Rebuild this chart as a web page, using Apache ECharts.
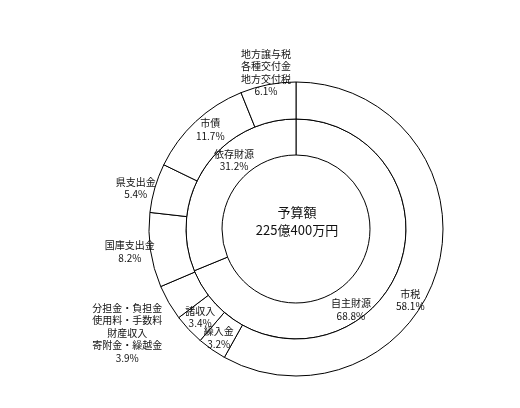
<!DOCTYPE html>
<html><head><meta charset="utf-8">
<script src="https://cdn.jsdelivr.net/npm/echarts@6/dist/echarts.min.js"></script>
<style>html,body{margin:0;padding:0;background:#fff}#c{width:520px;height:408px}</style>
</head><body><div id="c"></div>
<script>
const innerNames = ['自主財源', '依存財源'];
const innerValues = [68.8, 31.2];
const innerLabels = ['68.8%', '31.2%'];
const outerNames = ['市税', '繰入金', '諸収入', '分担金・負担金\n使用料・手数料\n財産収入\n寄附金・繰越金', '国庫支出金', '県支出金', '市債', '地方譲与税\n各種交付金\n地方交付税'];
const outerValues = [58.1, 3.2, 3.4, 3.9, 8.2, 5.4, 11.7, 6.1];
const outerLabels = ['58.1%', '3.2%', '3.4%', '3.9%', '8.2%', '5.4%', '11.7%', '6.1%'];
const centerTitle = '予算額';
const centerTotal = '225億400万円';

const innerOffsets = [[-24, 28], [17, -16]];
const outerOffsets = [[-13, 38], [-2, 1], [0, -2], [-55, 38], [-36, 4], [-34, -4], [4, -3], [-5, -27]];

const font = '"Noto Sans CJK JP", sans-serif';
const baseLabel = {
  show: true, position: 'inside', color: '#111', fontSize: 10, lineHeight: 12.5,
  fontFamily: font, align: 'center', formatter: p => p.data.text
};
const itemStyle = { color: '#fff', borderColor: '#000', borderWidth: 1 };

const chart = echarts.init(document.getElementById('c'));
chart.setOption({
  animation: false,
  backgroundColor: '#fff',
  series: [
    {
      type: 'pie', center: [296, 229], radius: [74, 110], startAngle: 90, clockwise: true,
      silent: true, avoidLabelOverlap: false, labelLayout: { hideOverlap: false },
      itemStyle, label: baseLabel, labelLine: { show: false },
      data: innerNames.map((n, i) => ({ name: n, value: innerValues[i], text: n + '\n' + innerLabels[i], label: { offset: innerOffsets[i] } }))
    },
    {
      type: 'pie', center: [296, 229], radius: [110, 147], startAngle: 90, clockwise: true,
      silent: true, avoidLabelOverlap: false, labelLayout: { hideOverlap: false },
      itemStyle, label: baseLabel, labelLine: { show: false },
      data: outerNames.map((n, i) => ({ name: n, value: outerValues[i], text: n + '\n' + outerLabels[i], label: { offset: outerOffsets[i] } }))
    }
  ],
  graphic: [{
    type: 'text', x: 297, y: 221,
    style: { text: centerTitle + '\n' + centerTotal, align: 'center', verticalAlign: 'middle', fontSize: 13, lineHeight: 18, fontFamily: font, fill: '#111' }
  }]
});
</script></body></html>
